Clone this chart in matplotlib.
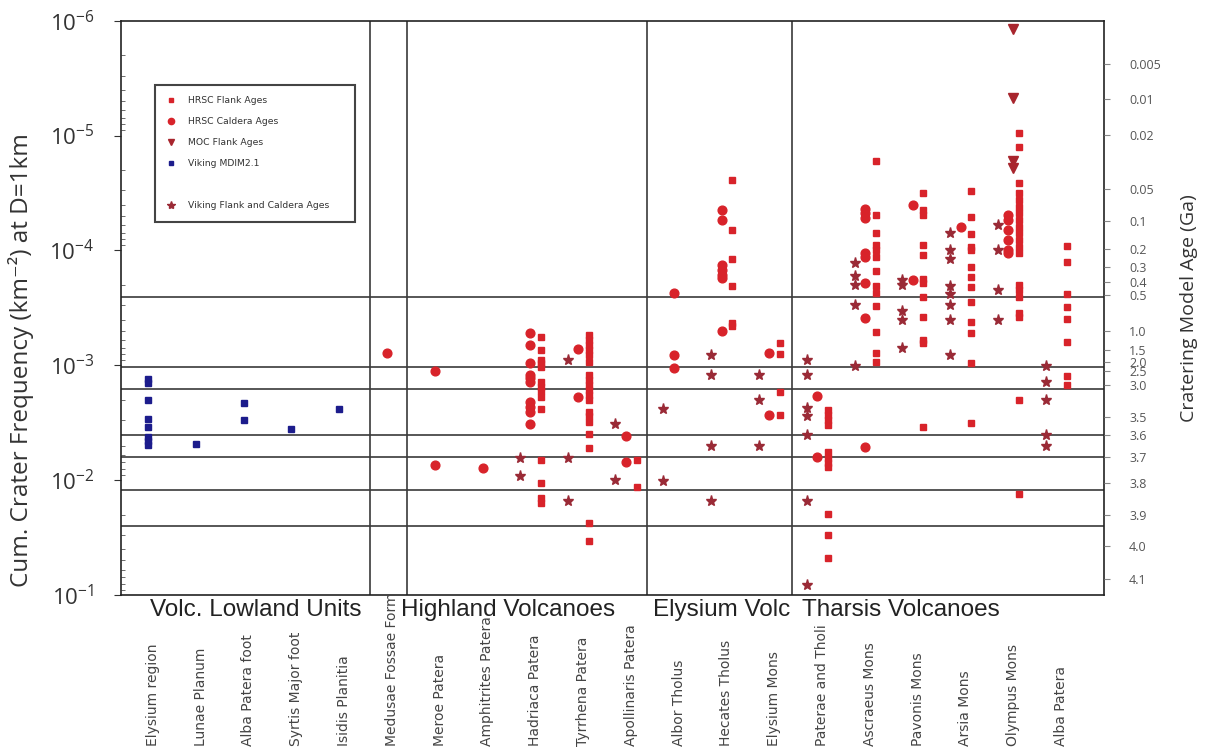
import matplotlib
matplotlib.use("Agg")
import matplotlib.pyplot as plt
from matplotlib.lines import Line2D
from matplotlib.ticker import NullLocator, LogLocator
from matplotlib.transforms import blended_transform_factory

plt.rcParams['font.family'] = ['Open Sans', 'DejaVu Sans']

# x categories (one column per volcano / unit)
categories = [
    "Elysium region", "Lunae Planum", "Alba Patera foot", "Syrtis Major foot",
    "Isidis Planitia", "Medusae Fossae Form", "Meroe Patera", "Amphitrites Patera",
    "Hadriaca Patera", "Tyrrhena Patera", "Apollinaris Patera", "Albor Tholus",
    "Hecates Tholus", "Elysium Mons", "Paterae and Tholi", "Ascraeus Mons",
    "Pavonis Mons", "Arsia Mons", "Olympus Mons", "Alba Patera",
]
group_names = ["Volc. Lowland Units", "Highland Volcanoes", "Elysium Volc", "Tharsis Volcanoes"]

# cumulative crater frequency N(1) in km^-2
viking_mdim = {
    "Elysium region": [1.31e-3, 1.42e-3, 2.0e-3, 2.93e-3, 3.44e-3, 4.2e-3, 4.55e-3, 4.93e-3],
    "Lunae Planum": [4.83e-3],
    "Alba Patera foot": [2.14e-3, 2.99e-3],
    "Syrtis Major foot": [3.55e-3],
    "Isidis Planitia": [2.41e-3],
}

hrsc_caldera = {
    "Medusae Fossae Form": [7.85e-4],
    "Meroe Patera": [1.13e-3, 7.36e-3],
    "Amphitrites Patera": [7.76e-3],
    "Hadriaca Patera": [5.22e-4, 6.64e-4, 9.53e-4, 1.21e-3, 1.29e-3, 1.39e-3, 2.08e-3, 2.30e-3, 2.55e-3, 3.24e-3],
    "Tyrrhena Patera": [7.24e-4, 1.87e-3],
    "Apollinaris Patera": [4.12e-3, 6.89e-3],
    "Albor Tholus": [2.33e-4, 8.07e-4, 1.06e-3],
    "Hecates Tholus": [4.44e-5, 5.43e-5, 1.34e-4, 1.48e-4, 1.63e-4, 1.74e-4, 5.02e-4],
    "Elysium Mons": [7.85e-4, 2.72e-3],
    "Paterae and Tholi": [1.84e-3, 6.24e-3],
    "Ascraeus Mons": [4.35e-5, 4.72e-5, 5.21e-5, 1.05e-4, 1.14e-4, 1.93e-4, 3.89e-4, 5.1e-3],
    "Pavonis Mons": [4.02e-5, 1.81e-4],
    "Arsia Mons": [6.19e-5],
    "Olympus Mons": [4.91e-5, 5.43e-5, 6.64e-5, 8.11e-5, 9.9e-5, 1.06e-4],
}

hrsc_flank = {
    "Hadriaca Patera": [5.62e-4, 7.35e-4, 8.97e-4, 9.59e-4, 1.03e-3, 1.39e-3, 1.53e-3, 1.69e-3,
                        1.87e-3, 2.41e-3, 6.66e-3, 1.06e-2, 1.43e-2, 1.57e-2],
    "Tyrrhena Patera": [5.44e-4, 6.01e-4, 6.64e-4, 7.35e-4, 8.11e-4, 9.29e-4, 1.21e-3, 1.34e-3,
                        1.48e-3, 1.64e-3, 1.81e-3, 2.0e-3, 2.53e-3, 2.79e-3, 3.09e-3, 3.98e-3,
                        5.27e-3, 2.34e-2, 3.36e-2],
    "Apollinaris Patera": [6.66e-3, 1.14e-2],
    "Hecates Tholus": [2.43e-5, 6.62e-5, 1.19e-4, 2.02e-4, 4.25e-4, 4.54e-4],
    "Elysium Mons": [6.42e-4, 8.0e-4, 1.71e-3, 2.72e-3],
    "Paterae and Tholi": [2.44e-3, 2.7e-3, 2.99e-3, 3.31e-3, 5.64e-3, 6.44e-3, 7.03e-3, 7.62e-3,
                          1.96e-2, 3.03e-2, 4.77e-2],
    "Ascraeus Mons": [1.66e-5, 4.91e-5, 7.08e-5, 8.95e-5, 1.0e-4, 1.13e-4, 1.5e-4, 2.04e-4,
                      2.35e-4, 3.04e-4, 5.09e-4, 7.75e-4, 9.29e-4],
    "Pavonis Mons": [3.14e-5, 4.44e-5, 4.91e-5, 8.95e-5, 1.09e-4, 1.78e-4, 1.91e-4, 2.54e-4,
                     3.77e-4, 6.01e-4, 6.42e-4, 3.42e-3],
    "Arsia Mons": [3.02e-5, 5.14e-5, 7.18e-5, 9.27e-5, 1.0e-4, 1.38e-4, 1.69e-4, 2.07e-4,
                   2.79e-4, 4.17e-4, 5.2e-4, 9.48e-4, 3.19e-3],
    "Olympus Mons": [9.55e-6, 1.25e-5, 2.57e-5, 3.14e-5, 3.63e-5, 4.15e-5, 4.75e-5, 5.43e-5,
                     6.21e-5, 7.08e-5, 8.11e-5, 9.27e-5, 1.06e-4, 2.0e-4, 2.21e-4, 2.55e-4,
                     3.52e-4, 3.81e-4, 2.0e-3, 1.31e-2],
    "Alba Patera": [9.14e-5, 1.27e-4, 2.4e-4, 3.12e-4, 3.96e-4, 6.22e-4, 1.24e-3, 1.48e-3],
}

moc_flank = {
    "Olympus Mons": [1.19e-6, 4.73e-6, 1.66e-5, 1.93e-5],
}

viking_ages = {
    "Hadriaca Patera": [6.44e-3, 9.12e-3],
    "Tyrrhena Patera": [8.97e-4, 6.44e-3, 1.51e-2],
    "Apollinaris Patera": [3.24e-3, 1.0e-2],
    "Albor Tholus": [2.41e-3, 1.01e-2],
    "Hecates Tholus": [8.07e-4, 1.22e-3, 5.03e-3, 1.51e-2],
    "Elysium Mons": [1.22e-3, 2.0e-3, 5.03e-3],
    "Paterae and Tholi": [8.97e-4, 1.21e-3, 2.36e-3, 2.76e-3, 4.03e-3, 1.51e-2, 8.15e-2],
    "Ascraeus Mons": [1.29e-4, 1.67e-4, 2.0e-4, 2.98e-4, 1.01e-3],
    "Pavonis Mons": [1.81e-4, 2.0e-4, 3.34e-4, 4.03e-4, 7.1e-4],
    "Arsia Mons": [7.08e-5, 1.0e-4, 1.19e-4, 2.04e-4, 2.41e-4, 2.98e-4, 4.03e-4, 8.15e-4],
    "Olympus Mons": [6.0e-5, 9.9e-5, 2.21e-4, 4.03e-4],
    "Alba Patera": [1.01e-3, 1.41e-3, 2.0e-3, 4.03e-3, 5.03e-3],
}

# horizontal epoch boundaries (N(1))
epoch_n1 = [2.54e-4, 1.03e-3, 1.61e-3, 4.04e-3, 6.24e-3, 1.21e-2, 2.5e-2]

# right axis: model ages and where they sit on the N(1) scale
age_labels = ["0.005", "0.01", "0.02", "0.05", "0.1", "0.2", "0.3", "0.4", "0.5", "1.0",
              "1.5", "2.0", "2.5", "3.0", "3.5", "3.6", "3.7", "3.8", "3.9", "4.0", "4.1"]
age_n1 = [2.38e-6, 4.8e-6, 9.9e-6, 2.92e-5, 5.53e-5, 9.7e-5, 1.39e-4, 1.88e-4, 2.44e-4, 4.99e-4,
          7.3e-4, 9.4e-4, 1.13e-3, 1.48e-3, 2.83e-3, 4.01e-3, 6.31e-3, 1.06e-2, 2.03e-2, 3.76e-2, 7.24e-2]

# layout
sep_x = [5.64, 6.42, 11.44, 14.47]
group_x = [3.26, 8.53, 13.01, 16.75]

red = '#d8232a'
star_col = '#9a2a36'
tri_col = '#a8252d'
blue = '#1c1c8c'
line_col = '#3a3a3a'

fig = plt.figure(figsize=(12.07, 7.48), dpi=100)
ax = fig.add_axes([0.1002, 0.2045, 0.8145, 0.7678])
ax.set_yscale('log')
ax.set_ylim(1e-1, 1e-6)
ax.set_xlim(0.435, 21.0)

for n in epoch_n1:
    ax.axhline(n, color=line_col, lw=1.2, zorder=1)
for xv in sep_x:
    ax.axvline(xv, color=line_col, lw=1.2, zorder=1)


def draw(series, dx, **kw):
    for name, vals in series.items():
        x = categories.index(name) + 1 + dx
        ax.plot([x] * len(vals), vals, ls='none', zorder=3, **kw)


draw(viking_mdim, 0.0, marker='s', ms=4.6, color=blue, mec=blue)
draw(hrsc_caldera, 0.0, marker='o', ms=6.3, color=red, mec=red)
draw(hrsc_flank, 0.22, marker='s', ms=4.8, color=red, mec=red)
draw(moc_flank, 0.1, marker='v', ms=6.5, color=tri_col, mec=tri_col)
draw(viking_ages, -0.22, marker='*', ms=8, color=star_col, mec=star_col)

ax.set_xticks([])
ax.yaxis.set_major_locator(LogLocator(base=10, numticks=10))
ax.tick_params(axis='y', which='major', direction='out', length=5, labelsize=16,
               labelcolor='#333', color='#333', pad=14)
ax.tick_params(axis='y', which='minor', direction='in', length=3, right=True, color='#555')
for s in ax.spines.values():
    s.set_color('#222')
    s.set_linewidth(1.2)

ax.set_ylabel("Cum. Crater Frequency (km⁻²) at D=1km", fontsize=17.5, color='#333')
ax.yaxis.set_label_coords(-0.088, 0.41)

ax2 = ax.twinx()
ax2.set_yscale('log')
ax2.set_ylim(ax.get_ylim())
ax2.set_yticks(age_n1, age_labels)
ax2.yaxis.set_minor_locator(NullLocator())
ax2.tick_params(axis='y', direction='out', length=4, labelsize=9, labelcolor='#555',
                color='#888', pad=14)
for s in ax2.spines.values():
    s.set_visible(False)
ax2.set_ylabel("Cratering Model Age (Ga)", fontsize=14, color='#333', rotation=90)
ax2.yaxis.set_label_coords(1.077, 0.5)

# group labels under the axis
trans = blended_transform_factory(ax.transData, ax.transAxes)
for name, gx in zip(group_names, group_x):
    ax.text(gx, -0.026, name, transform=trans, ha='center', va='center',
            fontsize=17.5, family=['Liberation Sans', 'DejaVu Sans'], color='#222')

# rotated category names, anchored at the bottom of the figure
ftrans = blended_transform_factory(ax.transData, fig.transFigure)
for i, name in enumerate(categories):
    ax.text(i + 1.1, 0.003, name, transform=ftrans, rotation=90, ha='center', va='bottom',
            fontsize=10, family=['DejaVu Sans'], color='#444', clip_on=False)

handles = [
    Line2D([], [], ls='none', marker='s', ms=3.5, color=red),
    Line2D([], [], ls='none', marker='o', ms=4.5, color=red),
    Line2D([], [], ls='none', marker='v', ms=4.5, color=tri_col),
    Line2D([], [], ls='none', marker='s', ms=3.5, color=blue),
    Line2D([], [], ls='none', marker=None),
    Line2D([], [], ls='none', marker='*', ms=6, color=star_col),
]
labels = ["HRSC Flank Ages", "HRSC Caldera Ages", "MOC Flank Ages", "Viking MDIM2.1", " ",
          "Viking Flank and Caldera Ages"]
leg = ax.legend(handles, labels, loc='upper left', bbox_to_anchor=(0.0295, 0.5, 0.2136, 0.3967),
                mode='expand', prop={'family': 'DejaVu Sans', 'size': 6.7},
                labelspacing=1.3, borderpad=1.2, handlelength=1.2, handletextpad=1.2,
                fancybox=False, framealpha=1, edgecolor='#444')
leg.get_frame().set_linewidth(1.5)
for t in leg.get_texts():
    t.set_color('#333')

fig.savefig('out.png', dpi=100)
